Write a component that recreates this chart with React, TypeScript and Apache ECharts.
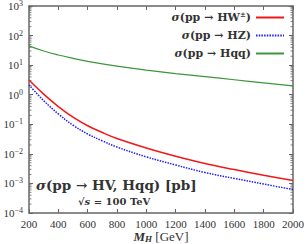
import React, { useEffect, useRef } from "react";
import * as echarts from "echarts";

const masses = [200, 300, 400, 500, 600, 700, 800, 1000, 1200, 1400, 1600, 1800, 2000];
const sigmaHW = [3.16, 1.05, 0.398, 0.174, 0.089, 0.0525, 0.0331, 0.0158, 0.0083, 0.0047, 0.00295, 0.0019, 0.00126];
const sigmaHZ = [2.14, 0.63, 0.224, 0.093, 0.047, 0.0275, 0.017, 0.0079, 0.0042, 0.00234, 0.00148, 0.00095, 0.00062];
const sigmaHqq = [45, 30, 22, 17, 13.5, 11, 9.2, 6.8, 5.2, 4.1, 3.2, 2.5, 2.0];
const decades = [-4, -3, -2, -1, 0, 1, 2, 3];
const minorMultipliers = [2, 3, 4, 5, 6, 7, 8, 9];

const FONT = "'Liberation Serif', 'DejaVu Serif', serif";
const BOLD_FONT = "'DejaVu Serif', serif";
const TXT = "#333";
const FRAME = "#666";

export default function App() {
  const ref = useRef<HTMLDivElement>(null);
  useEffect(() => {
    if (!ref.current) return;
    const chart = echarts.init(ref.current, undefined, { renderer: "svg" });
    const minorVals: number[] = [];
    for (const d of decades.slice(0, -1)) {
      for (const m of minorMultipliers) minorVals.push(m * Math.pow(10, d));
    }
    const pair = (ys: number[]) => masses.map((m, i) => [m, ys[i]]);
    const expLabel = (v: number) => {
      const e = Math.round(Math.log10(v));
      return "{b|10}{sup|" + (e < 0 ? "\u2212" + -e : String(e)) + "}";
    };
    const yCommon = {
      type: "log" as const,
      logBase: 10,
      min: 1e-4,
      max: 1e3,
      splitNumber: 7,
      axisLine: { show: true, lineStyle: { color: FRAME, width: 1.5 } },
      axisTick: { show: true, inside: true, length: 4, lineStyle: { color: FRAME, width: 1 } },
      splitLine: { show: false },
    };
    const xCommon = {
      type: "value" as const,
      min: 200,
      max: 2000,
      interval: 200,
      axisLine: { show: true, onZero: false, lineStyle: { color: FRAME, width: 1.5 } },
      axisTick: { show: true, inside: true, length: 4, lineStyle: { color: FRAME, width: 1 } },
      splitLine: { show: false },
    };
    const legendNames: Record<string, string> = {
      HW: "{i|\u03c3}{t|(pp \u2192 HW}{sup|\u00b1}{t|)}",
      HZ: "{i|\u03c3}{t|(pp \u2192 HZ)}",
      Hqq: "{i|\u03c3}{t|(pp \u2192 Hqq)}",
    };
    chart.setOption({
      animation: false,
      backgroundColor: "#fff",
      textStyle: { fontFamily: FONT },
      grid: { left: 29, right: 14, top: 6, bottom: 31, outerBoundsMode: "none", containLabel: false },
      xAxis: [
        {
          ...xCommon,
          position: "bottom",
          axisLabel: { color: TXT, fontSize: 11, fontFamily: FONT, margin: 5, formatter: (v: number) => String(v) },
          name: "{m|M}{s|H}{g| [GeV]}",
          nameLocation: "middle",
          nameGap: 16,
          nameMoveOverlap: false,
          nameTextStyle: {
            color: TXT,
            fontFamily: FONT,
            fontSize: 13,
            rich: {
              m: { fontStyle: "italic", fontWeight: "bold", fontSize: 13, lineHeight: 14, fontFamily: FONT, color: TXT },
              s: { fontStyle: "italic", fontWeight: "bold", fontSize: 9, lineHeight: 9, verticalAlign: "bottom", fontFamily: FONT, color: TXT },
              g: { fontSize: 13, lineHeight: 14, fontFamily: FONT, color: TXT },
            },
          },
        },
        { ...xCommon, position: "top", axisLabel: { show: false } },
      ],
      yAxis: [
        {
          ...yCommon,
          position: "left",
          axisLabel: {
            color: TXT,
            fontSize: 11,
            fontFamily: FONT,
            margin: 6,
            formatter: expLabel,
            rich: {
              b: { fontSize: 11, lineHeight: 13, fontFamily: FONT, color: TXT },
              sup: { fontSize: 8, lineHeight: 8, verticalAlign: "top", fontFamily: FONT, color: TXT },
            },
          },
        },
        { ...yCommon, position: "right", axisLabel: { show: false } },
      ],
      legend: {
        data: ["HW", "HZ", "Hqq"],
        orient: "vertical",
        right: 22,
        top: 11,
        padding: 0,
        align: "right",
        itemWidth: 28,
        itemHeight: 10,
        itemGap: 5,
        itemStyle: { opacity: 0 },
        formatter: (n: string) => legendNames[n],
        textStyle: {
          color: TXT,
          fontFamily: BOLD_FONT,
          fontWeight: "bold",
          fontSize: 11,
          lineHeight: 13,
          rich: {
            i: { fontStyle: "italic", fontWeight: "bold", fontFamily: BOLD_FONT, fontSize: 11, lineHeight: 13, color: TXT },
            t: { fontWeight: "bold", fontFamily: BOLD_FONT, fontSize: 11, lineHeight: 13, color: TXT },
            sup: { fontSize: 7, lineHeight: 7, verticalAlign: "top", fontWeight: "bold", fontFamily: BOLD_FONT, color: TXT },
          },
        },
      },
      graphic: [
        {
          type: "text",
          left: 36,
          top: 178,
          style: {
            text: "{i|\u03c3}(pp \u2192 HV, Hqq) [pb]",
            fontFamily: BOLD_FONT,
            fontWeight: "bold",
            fontSize: 13.5,
            fill: TXT,
            rich: {
              i: { fontStyle: "italic", fontWeight: "bold", fontFamily: BOLD_FONT, fontSize: 13.5, fill: TXT },
            },
          },
        },
        {
          type: "text",
          left: 78,
          top: 196,
          style: {
            text: "\u221a{i|s} = 100 TeV",
            fontFamily: BOLD_FONT,
            fontWeight: "bold",
            fontSize: 10,
            fill: TXT,
            rich: { i: { fontStyle: "italic", fontWeight: "bold", fontFamily: BOLD_FONT, fontSize: 10, fill: TXT } },
          },
        },
      ],
      series: [
        {
          name: "HW",
          type: "line",
          data: pair(sigmaHW),
          smooth: 0.4,
          symbol: "none",
          lineStyle: { color: "#f01818", width: 1.5 },
          itemStyle: { color: "#f01818" },
        },
        {
          name: "HZ",
          type: "line",
          data: pair(sigmaHZ),
          smooth: 0.4,
          symbol: "none",
          lineStyle: { color: "#2020f0", width: 1.5, type: [1.5, 1.2] },
          itemStyle: { color: "#2020f0" },
        },
        {
          name: "Hqq",
          type: "line",
          data: pair(sigmaHqq),
          smooth: 0.4,
          symbol: "none",
          lineStyle: { color: "#3c963c", width: 1.2 },
          itemStyle: { color: "#3c963c" },
        },
        {
          type: "custom",
          silent: true,
          data: minorVals.map((v) => [200, v]),
          renderItem: (_p: any, api: any) => {
            const v = api.value(1);
            const l = api.coord([200, v]);
            const r = api.coord([2000, v]);
            const st = { stroke: FRAME, lineWidth: 0.8 };
            return {
              type: "group",
              children: [
                { type: "line", shape: { x1: l[0], y1: l[1], x2: l[0] + 2.5, y2: l[1] }, style: st },
                { type: "line", shape: { x1: r[0] - 2.5, y1: r[1], x2: r[0], y2: r[1] }, style: st },
              ],
            };
          },
        },
      ],
    });
    return () => chart.dispose();
  }, []);
  return <div ref={ref} style={{ position: "fixed", left: 0, top: 0, width: 307, height: 244 }} />;
}
